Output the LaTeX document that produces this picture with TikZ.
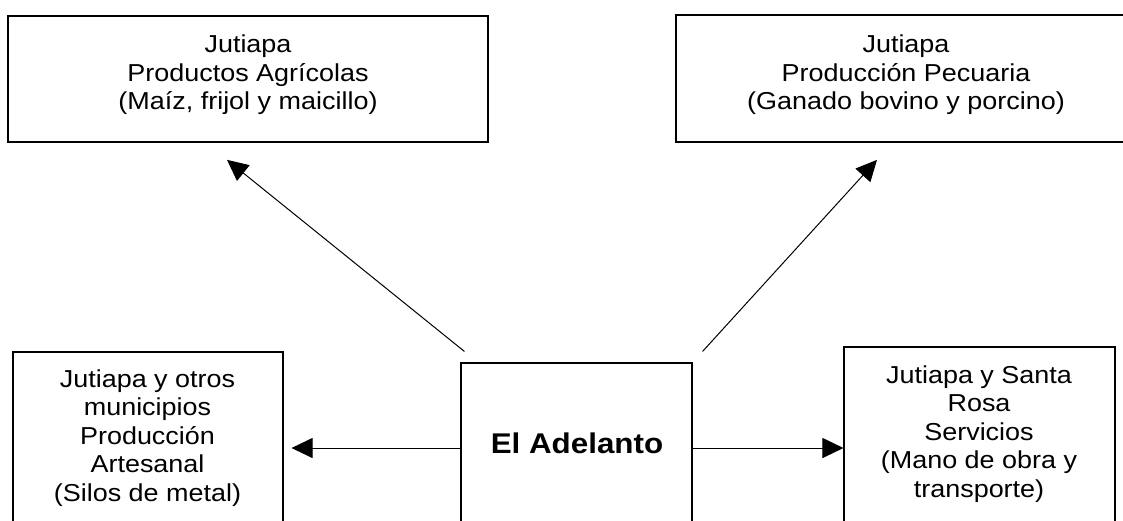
\documentclass[tikz,border=0pt]{standalone}
\usepackage{fontspec}
\setmainfont{Liberation Sans}[FakeStretch=1.1]
\usetikzlibrary{arrows.meta,calc}
\begin{document}
\begin{tikzpicture}[x=1pt,y=-1pt,
  topbox/.style={draw=black,line width=1.7pt,inner sep=0pt,rectangle},
  lowbox/.style={draw=black,line width=1.1pt,inner sep=0pt,rectangle},
  txt/.style={inner sep=0pt,align=center,font=\fontsize{24.5}{28.5}\selectfont},
  bigtxt/.style={inner sep=0pt,anchor=base,font=\fontsize{28.5}{34}\selectfont\bfseries},
  arr/.style={line width=1pt,-{Triangle[length=21pt,width=20pt]}}]
\useasboundingbox (0,0) rectangle (1123,520);
\clip (0,0) rectangle (1123,520);
% boxes
\node[topbox,minimum width=480pt,minimum height=126pt] (tl) at (248,79) {};
\node[topbox,minimum width=460pt,minimum height=127pt] (tr) at (906,78.5) {};
\node[lowbox,minimum width=270pt,minimum height=192pt] (bl) at (148,448) {};
\node[lowbox,minimum width=231pt,minimum height=170pt] (c) at (576.5,448) {};
\node[lowbox,minimum width=271pt,minimum height=202pt] (br) at (979.5,448) {};
% texts
\node[txt] (tlt) at (248,75.3) {\strut Jutiapa\\\strut Productos Agrícolas\\\strut (Maíz, frijol y maicillo)};
\node[txt] (trt) at (906,75.3) {\strut Jutiapa\\\strut Producción Pecuaria\\\strut (Ganado bovino y porcino)};
\node[txt] (blt) at (147.5,438.3) {\strut Jutiapa y otros\\\strut municipios\\\strut Producción\\\strut Artesanal\\\strut (Silos de metal)};
\node[txt] (brt) at (979,434.3) {\strut Jutiapa y Santa\\\strut Rosa\\\strut Servicios\\\strut (Mano de obra y\\\strut transporte)};
\node[bigtxt] (ct) at (577,453) {El Adelanto};
% connector end points
\coordinate (s1) at ($(c.north west)+(4,-11)$);
\coordinate (e1) at ($(tl.south)+(-21,17)$);
\coordinate (s2) at ($(c.north east)+(10,-11)$);
\coordinate (e2) at ($(tr.south)+(-29,17)$);
% connectors
\draw[arr] (s1) -- (e1);
\draw[arr] (s2) -- (e2);
\draw[arr,shorten >=8pt] (c.west) -- (bl.east);
\draw[arr] (c.east) -- (br.west);
\end{tikzpicture}
\end{document}
